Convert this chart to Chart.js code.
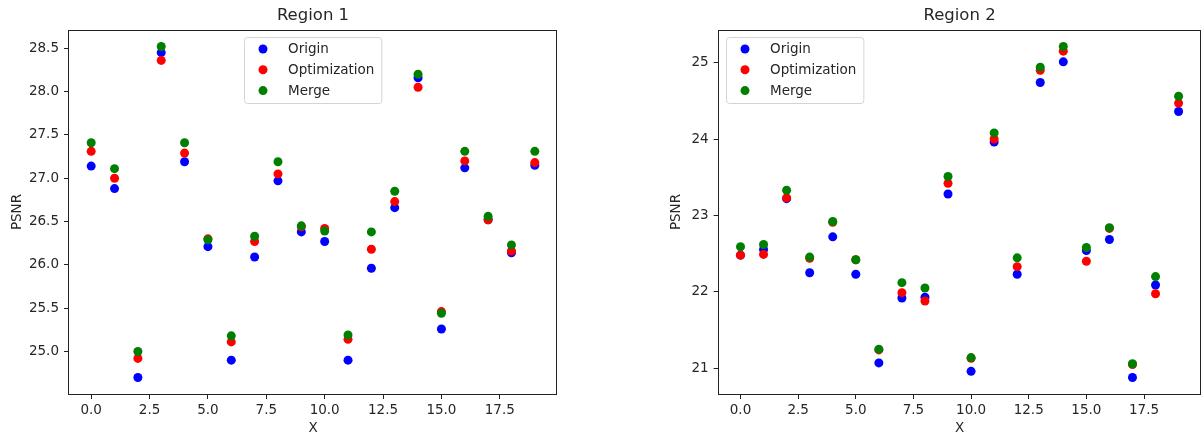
<!DOCTYPE html>
<html><head><meta charset="utf-8">
<script src="https://cdn.jsdelivr.net/npm/chart.js@4.4.1/dist/chart.umd.min.js"></script>
<style>
html,body{margin:0;padding:0;width:1203px;height:435px;overflow:hidden;background:#fff;}
#c1{position:absolute;left:0;top:0;}
#c2{position:absolute;left:650px;top:0;}
</style></head><body>
<canvas id="c1" width="600" height="435"></canvas>
<canvas id="c2" width="555" height="435"></canvas>
<script>
// ---- data ----
const xValues = [0,1,2,3,4,5,6,7,8,9,10,11,12,13,14,15,16,17,18,19];
const seriesNames = ['Origin', 'Optimization', 'Merge'];
const titles = ['Region 1', 'Region 2'];

const r1Origin = [27.14, 26.88, 24.70, 28.45, 27.19, 26.21, 24.90, 26.09, 26.97, 26.38, 26.27, 24.90, 25.96, 26.66, 28.16, 25.26, 27.12, 26.52, 26.14, 27.15];
const r1Optim  = [27.31, 27.00, 24.92, 28.36, 27.29, 26.30, 25.11, 26.27, 27.05, 26.44, 26.42, 25.14, 26.18, 26.73, 28.05, 25.46, 27.20, 26.52, 26.16, 27.18];
const r1Merge  = [27.41, 27.11, 25.00, 28.52, 27.41, 26.29, 25.18, 26.33, 27.19, 26.45, 26.39, 25.19, 26.38, 26.85, 28.20, 25.44, 27.31, 26.56, 26.23, 27.31];

const r2Origin = [22.48, 22.555, 23.22, 22.25, 22.72, 22.23, 21.07, 21.92, 21.93, 23.28, 20.96, 23.96, 22.23, 24.74, 25.01, 22.54, 22.685, 20.88, 22.09, 24.36];
const r2Optim  = [22.48, 22.49, 23.23, 22.44, 22.91, 22.42, 21.24, 21.99, 21.88, 23.42, 21.13, 24.00, 22.33, 24.90, 25.15, 22.40, 22.83, 21.05, 21.975, 24.47];
const r2Merge  = [22.59, 22.62, 23.33, 22.455, 22.92, 22.42, 21.25, 22.12, 22.05, 23.51, 21.14, 24.08, 22.445, 24.94, 25.21, 22.58, 22.84, 21.06, 22.20, 24.56];

const xTickValues = [0, 2.5, 5, 7.5, 10, 12.5, 15, 17.5];
const xTickLabels = ['0.0', '2.5', '5.0', '7.5', '10.0', '12.5', '15.0', '17.5'];
const r1YTickValues = [25.0, 25.5, 26.0, 26.5, 27.0, 27.5, 28.0, 28.5];
const r1YTickLabels = ['25.0', '25.5', '26.0', '26.5', '27.0', '27.5', '28.0', '28.5'];
const r2YTickValues = [21, 22, 23, 24, 25];
const r2YTickLabels = ['21', '22', '23', '24', '25'];

// ---- styles ----
const FONT = "'DejaVu Sans', sans-serif";
const TEXT = '#262626';
const COLORS = ['#0000ff', '#ff0000', '#008000'];

function pts(ys){ return ys.map((y,i)=>({x:xValues[i], y:y})); }
function paddedRange(arrs){
  const all = [].concat(...arrs);
  const mn = Math.min(...all), mx = Math.max(...all);
  const p = (mx - mn) * 0.05;
  return [mn - p, mx + p];
}

const framePlugin = {
  id: 'frame',
  afterDraw(chart){
    const a = chart.chartArea, ctx = chart.ctx;
    ctx.save();
    ctx.strokeStyle = '#222';
    ctx.lineWidth = 1;
    const l = Math.round(a.left) - 0.5, t = Math.round(a.top) + 0.5;
    const r = Math.round(a.right) - 0.5, b = Math.round(a.bottom) + 0.5;
    ctx.strokeRect(l, t, r - l, b - t);
    ctx.restore();
  }
};

const legendPlugin = {
  id: 'mplLegend',
  afterDraw(chart, args, opts){
    const ctx = chart.ctx, a = chart.chartArea;
    ctx.save();
    ctx.font = '13.5px ' + FONT;
    const ds = chart.data.datasets;
    const tw = Math.max(...ds.map(d => ctx.measureText(d.label).width));
    const w = 44 + tw + 7, h = 66;
    const left = opts.align === 'center' ? Math.round((a.left + a.right) / 2 - w / 2) : Math.round(a.left + 7);
    const top = Math.round(a.top + 7);
    ctx.fillStyle = 'rgba(255,255,255,0.8)';
    ctx.strokeStyle = '#d4d4d4';
    ctx.lineWidth = 1;
    ctx.beginPath();
    ctx.roundRect(left + 0.5, top + 0.5, w, h, 3);
    ctx.fill();
    ctx.stroke();
    ds.forEach((d, i) => {
      const y = top + 12 + i * 20.8;
      ctx.fillStyle = d.backgroundColor;
      ctx.beginPath();
      ctx.arc(left + 19, y, 4.5, 0, Math.PI * 2);
      ctx.fill();
      ctx.fillStyle = TEXT;
      ctx.textBaseline = 'middle';
      ctx.textAlign = 'left';
      ctx.fillText(d.label, left + 44, y + 0.5);
    });
    ctx.restore();
  }
};

function makeChart(canvas, cfg){
  const [ymin, ymax] = paddedRange(cfg.series);
  const [xmin, xmax] = paddedRange([xValues]);
  const datasets = cfg.series.map((s, i) => ({
    label: seriesNames[i],
    data: pts(s),
    backgroundColor: COLORS[i],
    borderWidth: 0,
    pointRadius: 4.5,
    pointHoverRadius: 4.5,
    order: 3 - i
  }));
  return new Chart(canvas, {
    type: 'scatter',
    data: { datasets },
    plugins: [framePlugin, legendPlugin],
    options: {
      responsive: false,
      animation: false,
      devicePixelRatio: 1,
      events: [],
      layout: { padding: { left: 0, right: cfg.padRight, top: 0, bottom: 0 } },
      plugins: {
        legend: { display: false },
        tooltip: { enabled: false },
        title: {
          display: true, text: cfg.title, fullSize: false, color: TEXT,
          font: { family: FONT, size: 16.5, weight: 'normal', lineHeight: 1.2 },
          padding: { top: 6, bottom: 4.2 }
        },
        mplLegend: { align: cfg.legendAlign }
      },
      scales: {
        x: {
          type: 'linear', position: 'bottom', min: xmin, max: xmax,
          afterFit: (s) => { s.height = 41; },
          afterBuildTicks: (s) => { s.ticks = xTickValues.map(v => ({ value: v })); },
          grid: { drawOnChartArea: false, drawTicks: true, tickLength: 5, color: '#222', tickWidth: 1 },
          border: { display: false },
          ticks: {
            autoSkip: false, maxRotation: 0, padding: 3, color: TEXT,
            font: { family: FONT, size: 13.5 },
            callback: (v, i) => xTickLabels[i]
          },
          title: {
            display: true, text: 'X', color: TEXT,
            font: { family: FONT, size: 13.5, lineHeight: 1.0 },
            padding: { top: 0, bottom: 0 }
          }
        },
        y: {
          type: 'linear', position: 'left', min: ymin, max: ymax,
          afterFit: (s) => { s.width = cfg.yWidth; },
          afterBuildTicks: (s) => { s.ticks = cfg.yTicks.map(v => ({ value: v })); },
          grid: { drawOnChartArea: false, drawTicks: true, tickLength: 5, color: '#222', tickWidth: 1 },
          border: { display: false },
          ticks: {
            autoSkip: false, padding: 5, color: TEXT,
            font: { family: FONT, size: 13.5 },
            callback: (v, i) => cfg.yLabels[i]
          },
          title: {
            display: true, text: 'PSNR', color: TEXT,
            font: { family: FONT, size: 13.5, lineHeight: 1.0 },
            padding: { top: cfg.yTitlePad, bottom: 0 }
          }
        }
      }
    }
  });
}

makeChart(document.getElementById('c1'), {
  title: titles[0], series: [r1Origin, r1Optim, r1Merge],
  yTicks: r1YTickValues, yLabels: r1YTickLabels,
  yWidth: 69, padRight: 43, yTitlePad: 10.3, legendAlign: 'center'
});
makeChart(document.getElementById('c2'), {
  title: titles[1], series: [r2Origin, r2Optim, r2Merge],
  yTicks: r2YTickValues, yLabels: r2YTickLabels,
  yWidth: 68.6, padRight: 0, yTitlePad: 20, legendAlign: 'left'
});
</script>
</body></html>
